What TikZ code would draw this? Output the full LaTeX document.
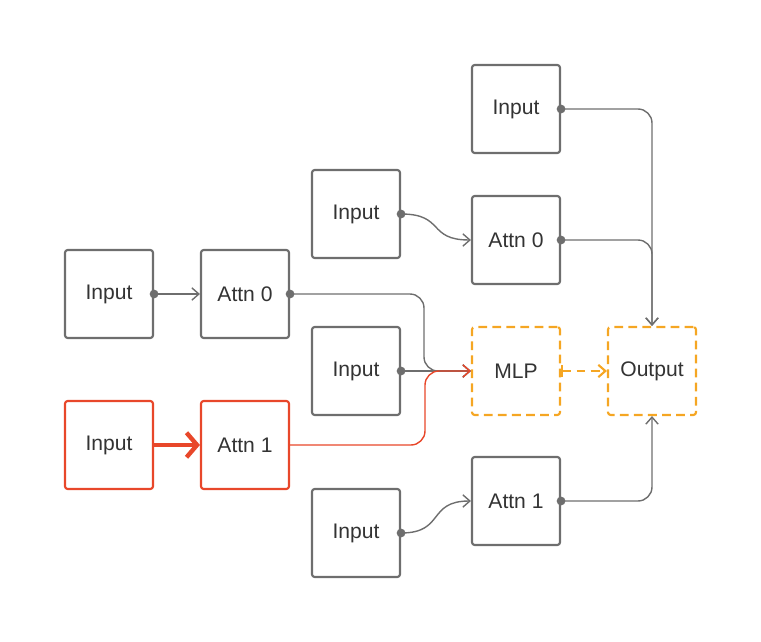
\documentclass[tikz,border=0pt]{standalone}
\usepackage{fontspec}
\setmainfont{Liberation Sans}
\usetikzlibrary{arrows.meta}
\definecolor{boxgray}{HTML}{6E6E6E}
\definecolor{hotred}{HTML}{E8472A}
\definecolor{mlporange}{HTML}{F5A623}
\tikzset{
  blk/.style={draw=boxgray,line width=1.2pt,rounded corners=1.5pt,minimum width=1.76cm,minimum height=1.76cm,inner sep=0pt,font=\large,text=black!80},
  redblk/.style={blk,draw=hotred},
  dashblk/.style={blk,draw=mlporange,dashed,dash pattern=on 5pt off 3pt},
  wire/.style={draw=boxgray,line width=0.8pt,-{Straight Barb[length=4pt,width=7pt]},rounded corners=8pt},
  redwire/.style={wire,draw=hotred},
  dot/.style={circle,fill=boxgray,inner sep=0pt,minimum size=5pt}
}
\begin{document}
\begin{tikzpicture}[x=0.02cm,y=-0.02cm]
    \useasboundingbox (0,0) rectangle (761,642);

    % boxes
    \node[blk] (intop) at (516,109) {Input};
    \node[blk] (inA) at (356,214) {Input};
    \node[blk] (attnA) at (516,240) {Attn 0};
    \node[blk] (inleft) at (109,294) {Input};
    \node[blk] (attnleft) at (245,294) {Attn 0};
    \node[blk] (inmid) at (356,371) {Input};
    \node[dashblk] (mlp) at (516,371) {MLP};
    \node[dashblk] (out) at (652,371) {Output};
    \node[redblk] (inred) at (109,445) {Input};
    \node[redblk] (attnred) at (245,445) {Attn 1};
    \node[blk] (attnB) at (516,501) {Attn 1};
    \node[blk] (inbot) at (356,533) {Input};

    % left chain
    \draw[wire] (inleft.east) -- (attnleft.west);
    \draw[hotred,line width=2.5pt,-{Straight Barb[length=6pt,width=14pt]}] (inred.east) -- (attnred.west);

    % into MLP
    \draw[wire] (attnleft.east) -- (424,294) -- (424,371) -- (mlp.west);
    \draw[wire] (inmid.east) -- (mlp.west);
    \draw[redwire] (attnred.east) -- (425,445) -- (425,371) -- (mlp.west);
    \draw[mlporange,line width=1.2pt,dashed,dash pattern=on 5pt off 3pt,{Bar[width=7pt]}-{Straight Barb[length=4pt,width=7pt]}] (mlp.east) -- (out.west);

    % right side
    \draw[wire] (inA.east) .. controls (445,214) and (427,240) .. (attnA.west);
    \draw[wire] (inbot.east) .. controls (445,533) and (427,501) .. (attnB.west);
    \draw[wire] (intop.east) -- (652,109) -- (out.north);
    \draw[wire] (attnA.east) -- (652,240) -- (out.north);
    \draw[wire] (attnB.east) -- (652,501) -- (out.south);

    % start dots
    \foreach \n in {inleft,attnleft,inmid,inA,inbot,intop,attnA,attnB}
        \node[dot] at (\n.east) {};
\end{tikzpicture}
\end{document}
